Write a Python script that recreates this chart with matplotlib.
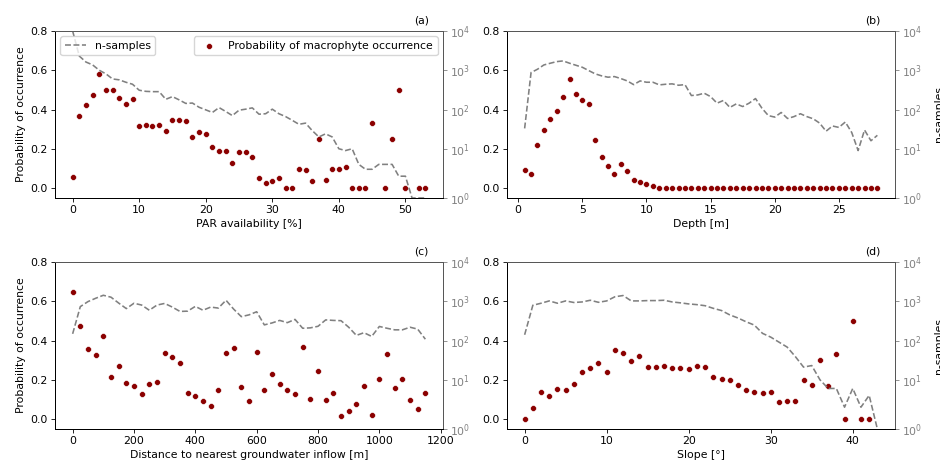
import numpy as np
import matplotlib
matplotlib.use("Agg")
import matplotlib.pyplot as plt
from matplotlib.ticker import NullLocator, LogFormatterSciNotation

nan = np.nan

# (a) PAR availability
par_x = np.arange(0, 54)
par_prob = [0.059, 0.367, 0.421, 0.474, 0.582, 0.500, 0.502, 0.457, 0.430, 0.455,
            0.316, 0.320, 0.315, 0.323, 0.293, 0.345, 0.345, 0.340, 0.260, 0.288,
            0.276, 0.208, 0.188, 0.188, 0.127, 0.186, 0.184, 0.157, 0.052, 0.025,
            0.039, 0.052, 0.000, 0.000, 0.098, 0.091, 0.036, 0.250, 0.044, 0.100,
            0.100, 0.110, 0.000, 0.000, 0.000, 0.333, nan, 0.000, 0.250, 0.500,
            0.000, nan, 0.000, 0.000]
par_n = [10000, 2300, 1620, 1370, 1000, 810, 600, 570, 495, 440,
         310, 290, 285, 285, 182, 213, 176, 143, 146, 114,
         98, 84, 112, 89, 70, 96, 102, 110, 76, 78,
         102, 78, 66, 53, 42, 45, 29, 20, 24, 20,
         10, 9, 10, 4, 3, 3, 4, 4, 4, 2,
         2, 1, 1, 1]

# (b) Depth
depth_x = np.arange(0.5, 28.01, 0.5)
depth_prob = [0.091, 0.071, 0.218, 0.298, 0.350, 0.394, 0.463, 0.555, 0.477, 0.447,
              0.428, 0.247, 0.159, 0.113, 0.074, 0.123, 0.085, 0.042, 0.029, 0.022,
              0.012, 0.003, 0.0, 0.0, 0.0, 0.0, 0.0, 0.0, 0.0, 0.0,
              0.0, 0.0, 0.0, 0.0, 0.0, 0.0, 0.0, 0.0, 0.0, 0.0,
              0.0, 0.0, 0.0, 0.0, 0.0, 0.0, 0.0, 0.0, 0.0, 0.0,
              0.0, 0.0, 0.0, 0.0, 0.0, 0.0]
depth_n = [33, 875, 1060, 1365, 1510, 1660, 1730, 1510, 1340, 1190,
           980, 810, 720, 665, 690, 615, 535, 430, 535, 495,
           495, 424, 440, 450, 415, 430, 227, 235, 260, 213,
           145, 170, 113, 139, 119, 145, 190, 108, 70, 64,
           84, 59, 66, 78, 66, 58, 45, 28, 38, 35,
           48, 26, 9, 30, 16, 22]

# (c) Distance to nearest groundwater inflow
dist_x = np.arange(0, 1151, 25)
dist_prob = [0.648, 0.475, 0.359, 0.327, 0.424, 0.216, 0.272, 0.182, 0.167, 0.129,
             0.179, 0.189, 0.339, 0.318, 0.284, 0.133, 0.116, 0.094, 0.065, 0.151,
             0.339, 0.361, 0.162, 0.094, 0.342, 0.146, 0.230, 0.180, 0.151, 0.129,
             0.369, 0.104, 0.245, 0.099, 0.134, 0.014, 0.041, 0.075, 0.169, 0.022,
             0.206, 0.332, 0.160, 0.203, 0.099, 0.054, 0.134]
dist_n = [148, 730, 980, 1190, 1420, 1270, 900, 650, 890, 800,
          590, 800, 880, 710, 550, 560, 740, 590, 710, 670,
          1060, 630, 405, 450, 540, 250, 280, 325, 285, 345,
          205, 210, 230, 335, 325, 320, 218, 135, 158, 127,
          228, 205, 187, 187, 218, 195, 108]

# (d) Slope
slope_x = np.arange(0, 44)
slope_prob = [0.000, 0.058, 0.138, 0.117, 0.153, 0.151, 0.180, 0.238, 0.259, 0.288,
              0.242, 0.351, 0.337, 0.298, 0.323, 0.267, 0.264, 0.269, 0.259, 0.262,
              0.254, 0.269, 0.267, 0.216, 0.204, 0.199, 0.174, 0.148, 0.140, 0.131,
              0.138, 0.085, 0.094, 0.090, 0.201, 0.174, 0.300, 0.167, 0.334, 0.000,
              0.500, 0.000, 0.000, nan]
slope_n = [140, 790, 890, 1020, 890, 1020, 930, 960, 1060, 940,
           1020, 1300, 1400, 1020, 1020, 1040, 1040, 1060, 960, 910,
           855, 820, 770, 660, 580, 450, 375, 300, 247, 152,
           122, 91, 68, 39, 21, 23, 10, 6, 6, 2,
           6, 2, 4, 1]

panel_tags = ["(a)", "(b)", "(c)", "(d)"]
x_labels = ["PAR availability [%]", "Depth [m]",
            "Distance to nearest groundwater inflow [m]", "Slope [°]"]

plt.rcParams["font.family"] = "DejaVu Sans"
plt.rcParams["font.size"] = 7.8
plt.rcParams["axes.linewidth"] = 0.7
for a in ("xtick", "ytick"):
    plt.rcParams[a + ".major.size"] = 2.6
    plt.rcParams[a + ".major.width"] = 0.6
    plt.rcParams[a + ".major.pad"] = 2.6

W_PX, H_PX = 940, 461
fig = plt.figure(figsize=(W_PX / 100, H_PX / 100), dpi=100)

ax_w, ax_h = 388, 167
corners = [(55, 31), (507, 31), (55, 262), (507, 262)]

datasets = [(par_x, par_prob, par_n), (depth_x, depth_prob, depth_n),
            (dist_x, dist_prob, dist_n), (slope_x, slope_prob, slope_n)]

for i, ((x, prob, n), (cx, cy)) in enumerate(zip(datasets, corners)):
    rect = [cx / W_PX, 1 - (cy + ax_h) / H_PX, ax_w / W_PX, ax_h / H_PX]
    ax = fig.add_axes(rect)
    ax2 = ax.twinx()

    ax.scatter(x, prob, s=18, color="darkred", edgecolor="white",
               linewidth=0.4, zorder=3,
               label="Probability of macrophyte occurrence")
    ax2.plot(x, n, ls="--", color="gray", lw=1.15, label="n-samples")

    ax.set_ylim(-0.05, 0.8)
    ax.set_yticks([0.0, 0.2, 0.4, 0.6, 0.8])
    ax.set_xlabel(x_labels[i], labelpad=2.5)

    ax2.set_yscale("symlog")
    ax2.set_ylim(1, 1e4)
    ax2.set_yticks([1, 10, 100, 1000, 10000])
    ax2.yaxis.set_major_formatter(LogFormatterSciNotation())
    ax2.yaxis.set_minor_locator(NullLocator())
    ax2.tick_params(axis="y", colors="gray")
    ax2.spines["right"].set_color("#5a5a5a")
    ax2.spines["top"].set_color("#5a5a5a")

    if i % 2 == 0:
        ax.set_ylabel("Probability of occurrence", labelpad=3)
    else:
        ax2.set_ylabel("n-samples")
        ax2.yaxis.set_label_coords((934 - cx) / ax_w, 0.5)

    if i == 0:
        ax.legend(loc="upper right")
        ax2.legend(loc="upper left")

    ax.text(0.963, 1.03, panel_tags[i], transform=ax.transAxes,
            ha="right", va="bottom")

fig.savefig("out.png", dpi=100)
